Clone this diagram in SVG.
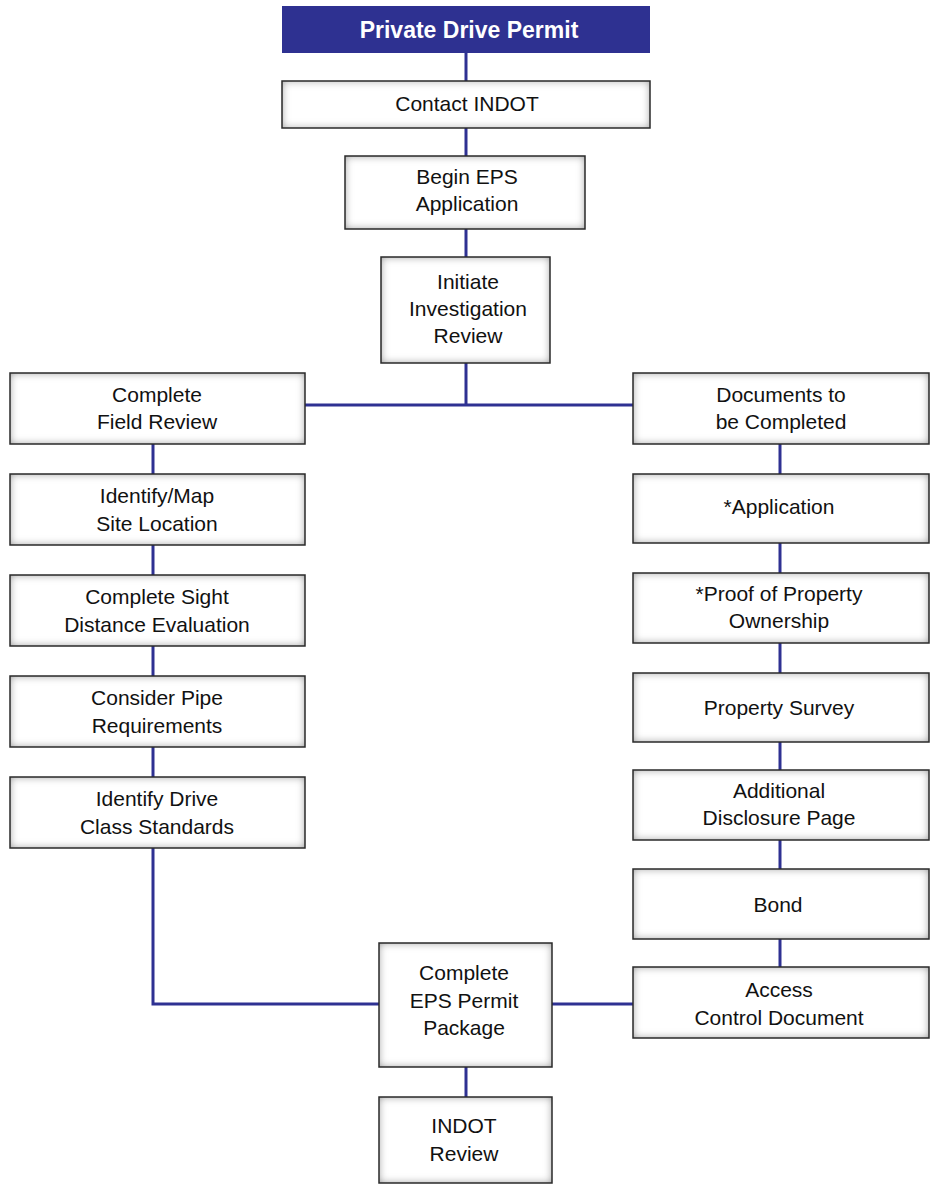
<svg xmlns="http://www.w3.org/2000/svg" width="933" height="1189" viewBox="0 0 933 1189">
<defs>
<filter id="inner" x="-10%" y="-10%" width="120%" height="120%">
<feFlood flood-color="#7a7a7a"/>
<feComposite in2="SourceAlpha" operator="out"/>
<feGaussianBlur stdDeviation="4"/>
<feComposite in2="SourceAlpha" operator="in" result="shadow"/>
<feMerge><feMergeNode in="SourceGraphic"/><feMergeNode in="shadow"/></feMerge>
</filter>
<style>
.bg{fill:#fff;filter:url(#inner)}
.bd{fill:none;stroke:#2a2a2a;stroke-width:1.5}
.t{font-family:"Liberation Sans",Arial,sans-serif;font-size:21px;fill:#111;text-anchor:middle}
.title{font-family:"Liberation Sans",Arial,sans-serif;font-size:23px;font-weight:bold;fill:#fff;text-anchor:middle}
.c{fill:none;stroke:#2e3192;stroke-width:3}
</style>
</defs>
<rect width="933" height="1189" fill="#fff"/>
<g id="connectors">
<line class="c" x1="466" y1="53" x2="466" y2="81"/>
<line class="c" x1="466" y1="128" x2="466" y2="156"/>
<line class="c" x1="466" y1="229" x2="466" y2="257"/>
<line class="c" x1="466" y1="363" x2="466" y2="405"/>
<line class="c" x1="305" y1="405" x2="633" y2="405"/>
<line class="c" x1="153" y1="444" x2="153" y2="474"/>
<line class="c" x1="153" y1="545" x2="153" y2="575"/>
<line class="c" x1="153" y1="646" x2="153" y2="676"/>
<line class="c" x1="153" y1="747" x2="153" y2="777"/>
<polyline class="c" points="153,848 153,1004 379,1004"/>
<line class="c" x1="552" y1="1004" x2="633" y2="1004"/>
<line class="c" x1="780" y1="444" x2="780" y2="474"/>
<line class="c" x1="780" y1="543" x2="780" y2="573"/>
<line class="c" x1="780" y1="643" x2="780" y2="673"/>
<line class="c" x1="780" y1="742" x2="780" y2="770"/>
<line class="c" x1="780" y1="840" x2="780" y2="869"/>
<line class="c" x1="780" y1="939" x2="780" y2="967"/>
<line class="c" x1="466" y1="1067" x2="466" y2="1097"/>
</g>
<g id="title">
<rect x="282" y="6" width="368" height="47" fill="#2e3191"/>
<text class="title" x="469" y="38">Private Drive Permit</text>
</g>
<g id="contact"><rect class="bg" x="282" y="81" width="368" height="47"/><rect class="bd" x="282" y="81" width="368" height="47"/>
<text class="t" x="467" y="111">Contact INDOT</text></g>
<g id="begin"><rect class="bg" x="345" y="156" width="240" height="73"/><rect class="bd" x="345" y="156" width="240" height="73"/>
<text class="t" x="467" y="184">Begin EPS</text><text class="t" x="467" y="211">Application</text></g>
<g id="initiate"><rect class="bg" x="381" y="257" width="169" height="106"/><rect class="bd" x="381" y="257" width="169" height="106"/>
<text class="t" x="468" y="289">Initiate</text><text class="t" x="468" y="316">Investigation</text><text class="t" x="468" y="343">Review</text></g>
<g id="field"><rect class="bg" x="10" y="373" width="295" height="71"/><rect class="bd" x="10" y="373" width="295" height="71"/>
<text class="t" x="157" y="402">Complete</text><text class="t" x="157" y="429">Field Review</text></g>
<g id="docs"><rect class="bg" x="633" y="373" width="296" height="71"/><rect class="bd" x="633" y="373" width="296" height="71"/>
<text class="t" x="781" y="402">Documents to</text><text class="t" x="781" y="429">be Completed</text></g>
<g id="identify"><rect class="bg" x="10" y="474" width="295" height="71"/><rect class="bd" x="10" y="474" width="295" height="71"/>
<text class="t" x="157" y="503">Identify/Map</text><text class="t" x="157" y="531">Site Location</text></g>
<g id="sight"><rect class="bg" x="10" y="575" width="295" height="71"/><rect class="bd" x="10" y="575" width="295" height="71"/>
<text class="t" x="157" y="604">Complete Sight</text><text class="t" x="157" y="632">Distance Evaluation</text></g>
<g id="pipe"><rect class="bg" x="10" y="676" width="295" height="71"/><rect class="bd" x="10" y="676" width="295" height="71"/>
<text class="t" x="157" y="705">Consider Pipe</text><text class="t" x="157" y="733">Requirements</text></g>
<g id="drive"><rect class="bg" x="10" y="777" width="295" height="71"/><rect class="bd" x="10" y="777" width="295" height="71"/>
<text class="t" x="157" y="806">Identify Drive</text><text class="t" x="157" y="834">Class Standards</text></g>
<g id="application"><rect class="bg" x="633" y="474" width="296" height="69"/><rect class="bd" x="633" y="474" width="296" height="69"/>
<text class="t" x="779" y="514">*Application</text></g>
<g id="proof"><rect class="bg" x="633" y="573" width="296" height="70"/><rect class="bd" x="633" y="573" width="296" height="70"/>
<text class="t" x="779" y="601">*Proof of Property</text><text class="t" x="779" y="628">Ownership</text></g>
<g id="survey"><rect class="bg" x="633" y="673" width="296" height="69"/><rect class="bd" x="633" y="673" width="296" height="69"/>
<text class="t" x="779" y="715">Property Survey</text></g>
<g id="disclosure"><rect class="bg" x="633" y="770" width="296" height="70"/><rect class="bd" x="633" y="770" width="296" height="70"/>
<text class="t" x="779" y="798">Additional</text><text class="t" x="779" y="825">Disclosure Page</text></g>
<g id="bond"><rect class="bg" x="633" y="869" width="296" height="70"/><rect class="bd" x="633" y="869" width="296" height="70"/>
<text class="t" x="778" y="912">Bond</text></g>
<g id="access"><rect class="bg" x="633" y="967" width="296" height="71"/><rect class="bd" x="633" y="967" width="296" height="71"/>
<text class="t" x="779" y="997">Access</text><text class="t" x="779" y="1025">Control Document</text></g>
<g id="package"><rect class="bg" x="379" y="943" width="173" height="124"/><rect class="bd" x="379" y="943" width="173" height="124"/>
<text class="t" x="464" y="980">Complete</text><text class="t" x="464" y="1008">EPS Permit</text><text class="t" x="464" y="1035">Package</text></g>
<g id="review"><rect class="bg" x="379" y="1097" width="173" height="86"/><rect class="bd" x="379" y="1097" width="173" height="86"/>
<text class="t" x="464" y="1133">INDOT</text><text class="t" x="464" y="1161">Review</text></g>
</svg>
